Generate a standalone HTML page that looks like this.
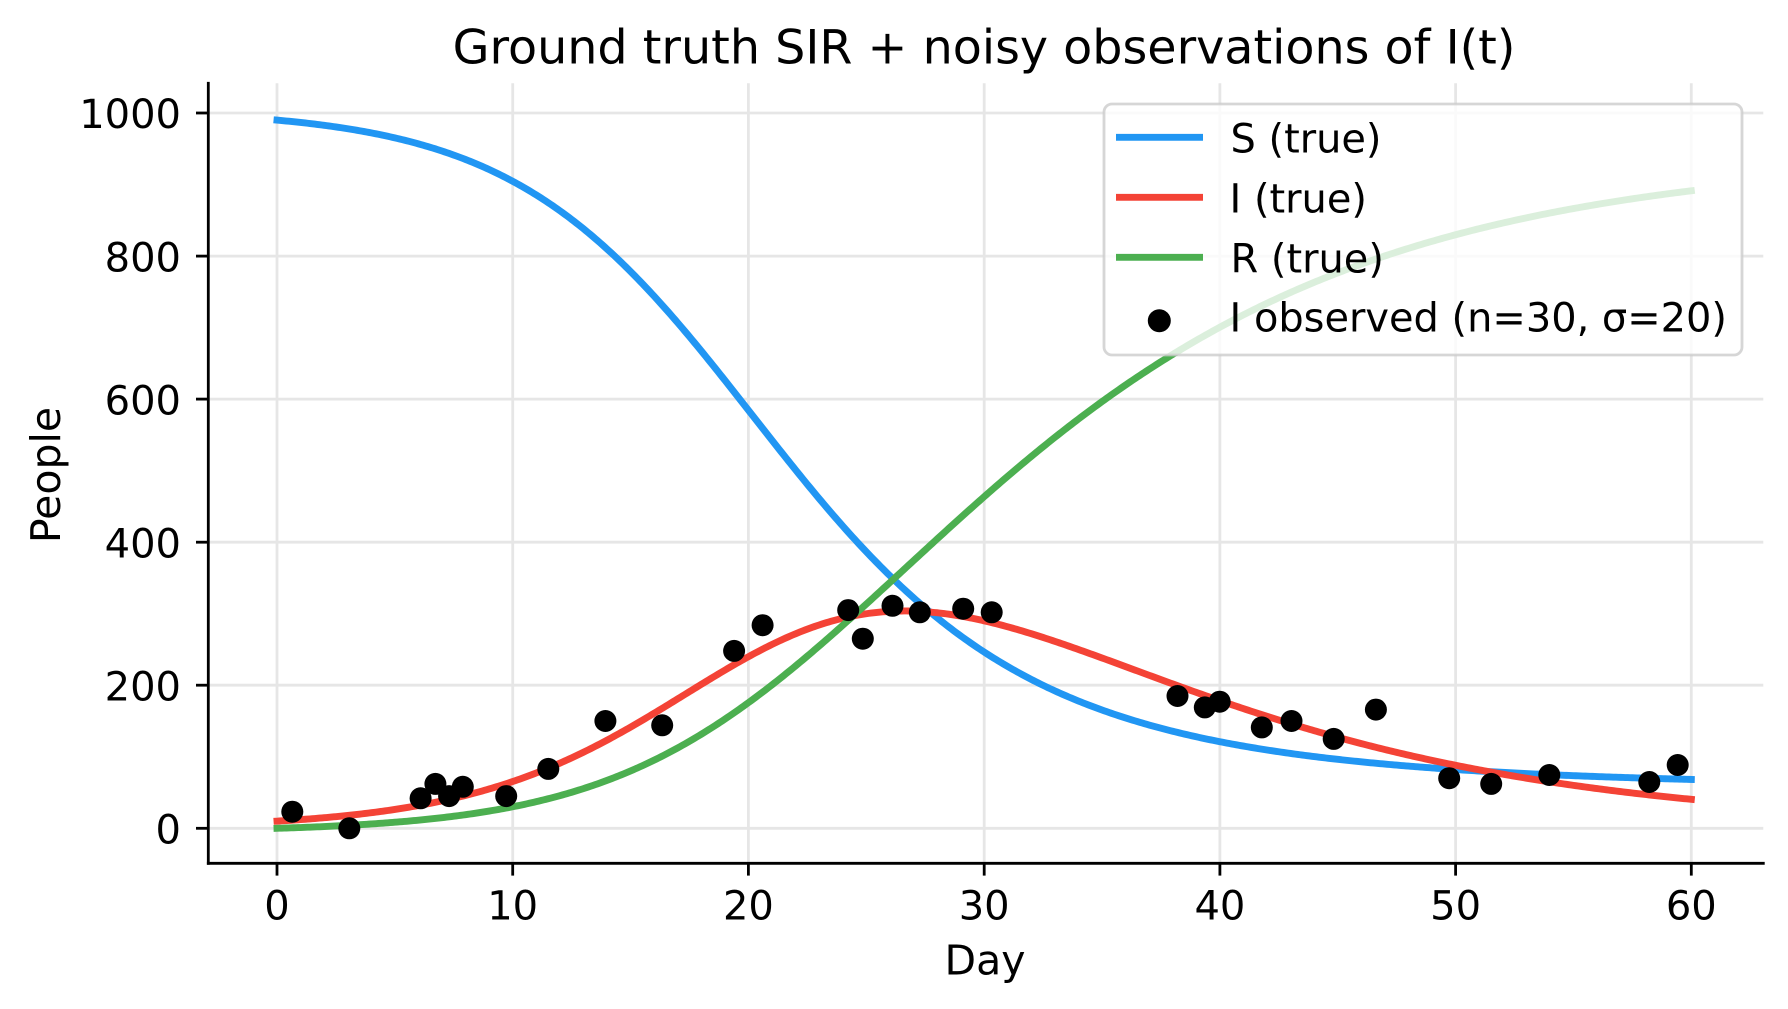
<!DOCTYPE html>
<html>
<head>
<meta charset="utf-8">
<style>
  html, body { margin: 0; padding: 0; background: #ffffff; }
  svg { display: block; }
  text { font-family: "DejaVu Sans", "Liberation Sans", sans-serif; fill: #000; }
</style>
</head>
<body>
<svg id="chart" width="1788" height="1009" viewBox="0 0 1788 1009" xmlns="http://www.w3.org/2000/svg">
  <rect x="0" y="0" width="1788" height="1009" fill="#ffffff"/>

  <!-- grid -->
  <g stroke="#e6e6e6" stroke-width="2.8" fill="none">
    <line x1="277" y1="83.3" x2="277" y2="863.3"/>
    <line x1="512.7" y1="83.3" x2="512.7" y2="863.3"/>
    <line x1="748.4" y1="83.3" x2="748.4" y2="863.3"/>
    <line x1="984.2" y1="83.3" x2="984.2" y2="863.3"/>
    <line x1="1219.9" y1="83.3" x2="1219.9" y2="863.3"/>
    <line x1="1455.6" y1="83.3" x2="1455.6" y2="863.3"/>
    <line x1="1691.3" y1="83.3" x2="1691.3" y2="863.3"/>
    <line x1="208.3" y1="828.3" x2="1763.3" y2="828.3"/>
    <line x1="208.3" y1="685.2" x2="1763.3" y2="685.2"/>
    <line x1="208.3" y1="542.2" x2="1763.3" y2="542.2"/>
    <line x1="208.3" y1="399.1" x2="1763.3" y2="399.1"/>
    <line x1="208.3" y1="256.1" x2="1763.3" y2="256.1"/>
    <line x1="208.3" y1="113" x2="1763.3" y2="113"/>
  </g>

  <!-- curves (static fallback, replaced by JS with exact SIR solution) -->
  <g fill="none" stroke-width="6.9" stroke-linejoin="round" stroke-linecap="square">
    <polyline id="curveS" stroke="#2196F3" points="277,120.2 394.9,130.8 512.7,178.1 630.6,270.4 748.4,399.1 866.3,541.5 984.2,655.9 1102,710.3 1219.9,741.7 1337.7,756.8 1455.6,766.8 1573.5,773.9 1691.3,779"/>
    <polyline id="curveI" stroke="#F44336" points="277,821.1 394.9,810.4 512.7,784.7 630.6,731.7 748.4,656.6 866.3,613.7 925.2,608 984.2,613.7 1102,649.5 1219.9,698.1 1337.7,735.2 1455.6,769.6 1573.5,784 1691.3,798.3"/>
    <polyline id="curveR" stroke="#4CAF50" points="277,828.3 394.9,825.2 512.7,809.8 630.6,768 748.4,696.1 866.3,584.9 984.2,496.5 1102,396.1 1219.9,318.9 1337.7,264.5 1455.6,226.5 1573.5,198.1 1691.3,169.8"/>
  </g>

  <!-- observations -->
  <g fill="#000000">
    <circle cx="292.3" cy="811.7" r="11"/>
    <circle cx="349.3" cy="828.3" r="11"/>
    <circle cx="420.6" cy="798.3" r="11"/>
    <circle cx="435.4" cy="783.9" r="11"/>
    <circle cx="449.1" cy="796.1" r="11"/>
    <circle cx="462.8" cy="786.8" r="11"/>
    <circle cx="506.2" cy="796.1" r="11"/>
    <circle cx="548.3" cy="768.9" r="11"/>
    <circle cx="605.4" cy="721" r="11"/>
    <circle cx="662.2" cy="725.3" r="11"/>
    <circle cx="734.1" cy="650.9" r="11"/>
    <circle cx="762.6" cy="625.2" r="11"/>
    <circle cx="848.2" cy="610.1" r="11"/>
    <circle cx="862.8" cy="638.7" r="11"/>
    <circle cx="892.5" cy="605.8" r="11"/>
    <circle cx="919.8" cy="612.3" r="11"/>
    <circle cx="963.2" cy="608.7" r="11"/>
    <circle cx="991.7" cy="612.3" r="11"/>
    <circle cx="1177.5" cy="696" r="11"/>
    <circle cx="1204.8" cy="707.4" r="11"/>
    <circle cx="1219.7" cy="701.7" r="11"/>
    <circle cx="1261.8" cy="727.4" r="11"/>
    <circle cx="1291.5" cy="721" r="11"/>
    <circle cx="1333.7" cy="738.9" r="11"/>
    <circle cx="1375.9" cy="709.6" r="11"/>
    <circle cx="1449.2" cy="778.2" r="11"/>
    <circle cx="1491.2" cy="783.9" r="11"/>
    <circle cx="1549.3" cy="775" r="11"/>
    <circle cx="1649.3" cy="782" r="11"/>
    <circle cx="1677.7" cy="765" r="11"/>
  </g>

  <!-- spines -->
  <g stroke="#000" stroke-width="2.8" stroke-linecap="square" fill="none">
    <line x1="208.3" y1="83.3" x2="208.3" y2="863.3"/>
    <line x1="208.3" y1="863.3" x2="1763.3" y2="863.3"/>
  </g>

  <!-- ticks -->
  <g stroke="#000" stroke-width="2.8">
    <line x1="196" y1="828.3" x2="208.3" y2="828.3"/>
    <line x1="196" y1="685.2" x2="208.3" y2="685.2"/>
    <line x1="196" y1="542.2" x2="208.3" y2="542.2"/>
    <line x1="196" y1="399.1" x2="208.3" y2="399.1"/>
    <line x1="196" y1="256.1" x2="208.3" y2="256.1"/>
    <line x1="196" y1="113" x2="208.3" y2="113"/>
    <line x1="277" y1="863.3" x2="277" y2="875.6"/>
    <line x1="512.7" y1="863.3" x2="512.7" y2="875.6"/>
    <line x1="748.4" y1="863.3" x2="748.4" y2="875.6"/>
    <line x1="984.2" y1="863.3" x2="984.2" y2="875.6"/>
    <line x1="1219.9" y1="863.3" x2="1219.9" y2="875.6"/>
    <line x1="1455.6" y1="863.3" x2="1455.6" y2="875.6"/>
    <line x1="1691.3" y1="863.3" x2="1691.3" y2="875.6"/>
  </g>

  <!-- y tick labels -->
  <g font-size="40" text-anchor="end">
    <text x="181" y="843.5">0</text>
    <text x="181" y="700.4">200</text>
    <text x="181" y="557.4">400</text>
    <text x="181" y="414.3">600</text>
    <text x="181" y="271.3">800</text>
    <text x="181" y="128.2">1000</text>
  </g>

  <!-- x tick labels -->
  <g font-size="40" text-anchor="middle">
    <text x="277" y="919.3">0</text>
    <text x="512.7" y="919.3">10</text>
    <text x="748.4" y="919.3">20</text>
    <text x="984.2" y="919.3">30</text>
    <text x="1219.9" y="919.3">40</text>
    <text x="1455.6" y="919.3">50</text>
    <text x="1691.3" y="919.3">60</text>
  </g>

  <!-- axis labels -->
  <text x="985" y="974.3" font-size="41" text-anchor="middle">Day</text>
  <text transform="translate(60,475) rotate(-90)" font-size="41" text-anchor="middle">People</text>

  <!-- title -->
  <text x="984" y="63.3" font-size="47.6" text-anchor="middle">Ground truth SIR + noisy observations of I(t)</text>

  <!-- legend -->
  <rect x="1104" y="104" width="638" height="251" rx="8" ry="8" fill="#ffffff" fill-opacity="0.8" stroke="#cccccc" stroke-opacity="0.8" stroke-width="2.8"/>
  <g stroke-width="6.9" stroke-linecap="butt">
    <line x1="1116" y1="137.3" x2="1203" y2="137.3" stroke="#2196F3"/>
    <line x1="1116" y1="197.3" x2="1203" y2="197.3" stroke="#F44336"/>
    <line x1="1116" y1="257.3" x2="1203" y2="257.3" stroke="#4CAF50"/>
  </g>
  <circle cx="1159.3" cy="320.7" r="11.5" fill="#000"/>
  <g font-size="39.9">
    <text x="1230.5" y="152.3">S (true)</text>
    <text x="1229.5" y="212.3">I (true)</text>
    <text x="1230.5" y="272.3">R (true)</text>
    <text x="1229.5" y="331.5">I observed (n=30, σ=20)</text>
  </g>
</svg>
<script>
(function(){
  var N=1000, b=0.3, g=0.1, S=990, I=10, R=0, dt=0.01;
  function X(t){ return 277 + t*23.572; }
  function Y(v){ return 828.3 - v*0.71533; }
  function f(s,i){ var inf=b*s*i/N; return [-inf, inf-g*i, g*i]; }
  var ps=[], pi=[], pr=[];
  var steps = 6000;
  for (var k=0;k<=steps;k++){
    var t=k*dt;
    if (k%10===0){
      ps.push(X(t).toFixed(2)+','+Y(S).toFixed(2));
      pi.push(X(t).toFixed(2)+','+Y(I).toFixed(2));
      pr.push(X(t).toFixed(2)+','+Y(R).toFixed(2));
    }
    var k1=f(S,I);
    var k2=f(S+dt/2*k1[0], I+dt/2*k1[1]);
    var k3=f(S+dt/2*k2[0], I+dt/2*k2[1]);
    var k4=f(S+dt*k3[0], I+dt*k3[1]);
    S += dt/6*(k1[0]+2*k2[0]+2*k3[0]+k4[0]);
    I += dt/6*(k1[1]+2*k2[1]+2*k3[1]+k4[1]);
    R += dt/6*(k1[2]+2*k2[2]+2*k3[2]+k4[2]);
  }
  document.getElementById('curveS').setAttribute('points', ps.join(' '));
  document.getElementById('curveI').setAttribute('points', pi.join(' '));
  document.getElementById('curveR').setAttribute('points', pr.join(' '));
})();
</script>
</body>
</html>
